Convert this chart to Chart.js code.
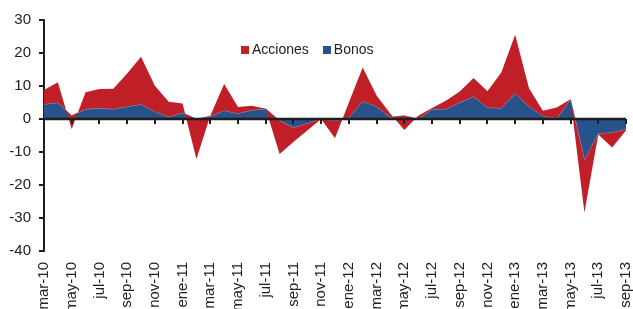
<!DOCTYPE html>
<html>
<head>
<meta charset="utf-8">
<script src="https://cdn.jsdelivr.net/npm/chart.js@4"></script>
<style>
    body { margin: 0; background: #fff; }
    #contenedor { position: relative; width: 633px; height: 309px; overflow: hidden; }
    #leyenda { position: absolute; top: 41px; left: 241px; font: 14px "Liberation Sans", Arial, sans-serif; color: #222; white-space: nowrap; }
    #leyenda span.caja { display: inline-block; width: 8px; height: 8px; margin-right: 3px; }
    #leyenda span.item { margin-right: 14px; }
</style>
</head>
<body>
<div id="contenedor">
    <canvas id="grafico" width="633" height="309"></canvas>
    <div id="leyenda">
        <span class="item"><span class="caja" style="background:#c11f28"></span>Acciones</span><span><span class="caja" style="background:#27528a"></span>Bonos</span>
    </div>
</div>
<script>
// Meses (mar-10 a sep-13)
const meses = [
    'mar-10', 'abr-10', 'may-10', 'jun-10', 'jul-10', 'ago-10', 'sep-10', 'oct-10', 'nov-10', 'dic-10',
    'ene-11', 'feb-11', 'mar-11', 'abr-11', 'may-11', 'jun-11', 'jul-11', 'ago-11', 'sep-11', 'oct-11', 'nov-11', 'dic-11',
    'ene-12', 'feb-12', 'mar-12', 'abr-12', 'may-12', 'jun-12', 'jul-12', 'ago-12', 'sep-12', 'oct-12', 'nov-12', 'dic-12',
    'ene-13', 'feb-13', 'mar-13', 'abr-13', 'may-13', 'jun-13', 'jul-13', 'ago-13', 'sep-13'
];

// Flujos por tipo de activo
const bonos = [
    4.5, 5.0, 1.0, 3.0, 3.3, 3.0, 3.8, 4.5, 2.3, 0.7,
    1.9, 0.0, 0.8, 2.6, 1.7, 2.7, 3.1, -0.5, -2.7, -1.4, 0.0, -0.7,
    0.4, 5.4, 3.8, 0.5, 1.0, 0.0, 3.0, 3.0, 5.0, 6.8, 3.5, 3.3,
    7.8, 3.8, 1.0, 0.2, 6.0, -12.6, -4.5, -4.2, -3.2
];
const acciones = [
    4.3, 6.1, -4.0, 5.1, 5.8, 6.2, 10.0, 14.4, 7.8, 4.5,
    2.8, -12.1, 0.2, 8.0, 1.9, 1.3, 0.0, -10.1, -4.3, -2.1, 0.0, -5.1,
    4.6, 10.2, 3.3, 1.1, -4.3, 1.0, 0.3, 2.5, 3.3, 5.6, 4.9, 10.8,
    17.7, 5.5, 1.5, 3.3, 0.0, -15.7, -0.2, -4.4, -0.3
];

const ticksY = [30, 20, 10, 0, -10, -20, -30, -40];

// Acciones se apila encima de bonos (como el area apilada original)
const acumulado = bonos.map((b, i) => b + acciones[i]);

// Linea del cero y marcas del eje x sobre ella
const lineaCero = {
    id: 'lineaCero',
    afterDatasetsDraw(chart) {
        const ctx = chart.ctx;
        const x = chart.scales.x;
        const y0 = chart.scales.y.getPixelForValue(0);
        ctx.save();
        ctx.strokeStyle = '#1e1e1e';
        ctx.lineWidth = 2.5;
        ctx.beginPath();
        ctx.moveTo(chart.chartArea.left, y0);
        ctx.lineTo(chart.chartArea.right, y0);
        ctx.stroke();
        ctx.lineWidth = 2;
        for (let i = 0; i < meses.length; i += 2) {
            const px = Math.round(x.getPixelForValue(i));
            ctx.beginPath();
            ctx.moveTo(px, y0);
            ctx.lineTo(px, y0 + 5);
            ctx.stroke();
        }
        ctx.restore();
    }
};

new Chart(document.getElementById('grafico').getContext('2d'), {
    type: 'line',
    data: {
        labels: meses,
        datasets: [
            {
                label: 'Acciones',
                data: acumulado,
                backgroundColor: '#c11f28',
                borderColor: '#c11f28',
                borderWidth: 0,
                pointRadius: 0,
                fill: 1
            },
            {
                label: 'Bonos',
                data: bonos,
                backgroundColor: '#27528a',
                borderColor: '#8b9bb5',
                borderWidth: 1,
                pointRadius: 0,
                fill: 'origin'
            }
        ]
    },
    options: {
        responsive: false,
        animation: false,
        layout: { padding: { top: 20, right: 7, left: 0, bottom: 0 } },
        plugins: {
            legend: { display: false },
            tooltip: { enabled: false }
        },
        scales: {
            x: {
                offset: false,
                grid: { display: false, drawTicks: false },
                border: { display: false },
                ticks: {
                    autoSkip: false,
                    minRotation: 90,
                    maxRotation: 90,
                    padding: 11,
                    color: '#222',
                    font: { family: '"Liberation Sans", Arial, sans-serif', size: 15 },
                    callback: function (value, index) {
                        return index % 2 === 0 ? this.getLabelForValue(value) : null;
                    }
                },
                afterFit: (scale) => {
                    scale.height = 58;
                    scale.paddingLeft = 0;
                    scale.paddingRight = 0;
                }
            },
            y: {
                min: -40,
                max: 30,
                afterBuildTicks: (scale) => {
                    scale.ticks = ticksY.map(v => ({ value: v }));
                },
                grid: { drawOnChartArea: false, drawTicks: true, tickLength: 5, color: '#1e1e1e', lineWidth: 2 },
                border: { display: true, color: '#1e1e1e', width: 2 },
                ticks: {
                    padding: 8,
                    color: '#222',
                    font: { family: '"Liberation Sans", Arial, sans-serif', size: 15 }
                },
                afterFit: (scale) => {
                    scale.width = 44;
                }
            }
        }
    },
    plugins: [lineaCero]
});
</script>
</body>
</html>
